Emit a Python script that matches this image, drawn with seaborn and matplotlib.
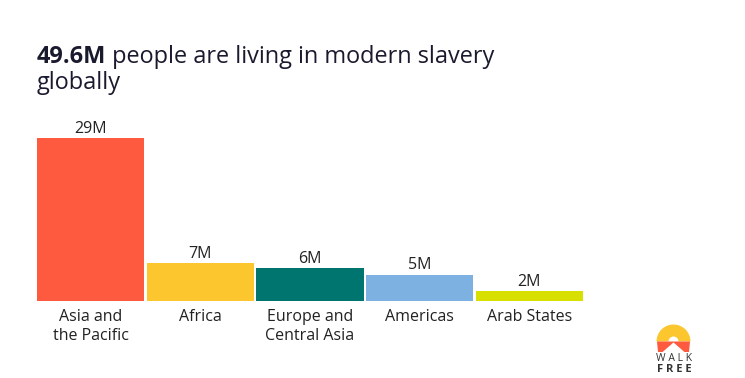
'''Modern slavery by region - bar chart'''
import matplotlib
matplotlib.use('Agg')
import matplotlib.pyplot as plt
import seaborn as sns
import pandas as pd
from matplotlib.patches import Wedge, Polygon

'''Data'''
regions = ['Asia and\nthe Pacific', 'Africa', 'Europe and\nCentral Asia', 'Americas', 'Arab States']
people_m = [29.0, 6.7, 5.8, 4.7, 1.7]
value_labels = ['29M', '7M', '6M', '5M', '2M']
colors = ['#FE5A3F', '#FCC72E', '#00746E', '#7DB1E2', '#D8E000']
title_bold = '49.6M'
title_rest = ' people are living in modern slavery'
title_line2 = 'globally'

df = pd.DataFrame({'region': regions, 'people': people_m})

sns.set_style('white')
plt.rcParams['font.family'] = ['Open Sans', 'DejaVu Sans']

fig = plt.figure(figsize=(7.45, 3.78), dpi=100)
W, H = 745, 378
ax = fig.add_axes([37 / W, 1 - 301 / H, 546 / W, 163 / H])

sns.barplot(data=df, x='region', y='people', hue='region', palette=colors,
            width=0.98, saturation=1, legend=False, linewidth=0, ax=ax)
ax.set_xlim(-0.49, 4.49)
ax.set_ylim(0, 29.0)
ax.set_xlabel('')
ax.set_ylabel('')
ax.set_yticks([])
sns.despine(ax=ax, left=True, bottom=True)
ax.tick_params(axis='x', length=0, pad=6, labelsize=11.5, labelcolor='#222222')

for i, (v, lab) in enumerate(zip(people_m, value_labels)):
    ax.annotate(lab, (i, v), xytext=(0, 1), textcoords='offset points',
                ha='center', va='bottom', fontsize=11.5, color='#222222',
                annotation_clip=False)

'''Title with bold figure'''
t1 = fig.text(37 / W, 1 - 63 / H, title_bold, fontsize=16.9, fontweight='bold',
              color='#1a1a2e', va='baseline')
fig.canvas.draw()
bb = t1.get_window_extent()
fig.text(bb.x1 / W, 1 - 63 / H, title_rest, fontsize=16.9, color='#1a1a2e',
         va='baseline')
fig.text(37 / W, 1 - 89 / H, title_line2, fontsize=16.9, color='#1a1a2e',
         va='baseline')

'''Walk Free logo approximation (pixel coordinates)'''
lax = fig.add_axes([650 / W, 1 - 376 / H, 55 / W, 58 / H])
lax.set_xlim(650, 705)
lax.set_ylim(376, 318)
lax.axis('off')
lax.add_patch(Wedge((673.5, 341.5), 17, 180, 360, width=12, color='#FCC72E', lw=0))
lax.add_patch(Polygon([[657, 341.5], [690, 341.5], [689, 352], [658, 352]],
                      closed=True, color='#FE5A3F', lw=0))
lax.add_patch(Polygon([[673.5, 342.5], [685, 352.5], [662, 352.5]],
                      closed=True, color='white', lw=0))
lax.text(674, 358.5, 'W A L K', ha='center', va='center', fontsize=7.5, color='#333333')
lax.text(674, 369.5, 'F R E E', ha='center', va='center', fontsize=8,
         fontweight='bold', color='#333333')

fig.savefig('out.png', dpi=100)
